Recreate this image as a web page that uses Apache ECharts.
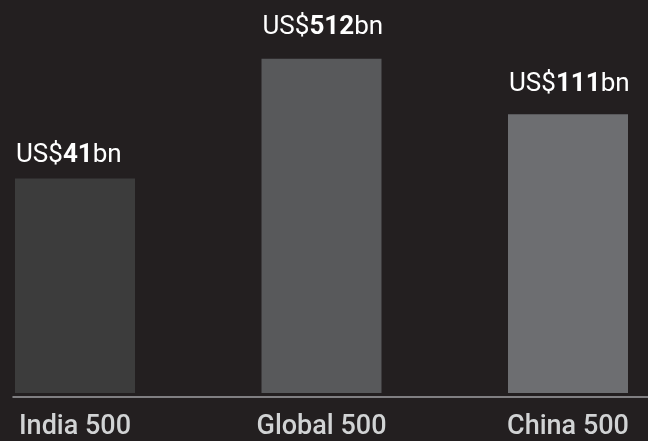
<!DOCTYPE html>
<html>
<head>
<meta charset="utf-8">
<script src="https://cdn.jsdelivr.net/npm/echarts@6/dist/echarts.min.js"></script>
<style>
html,body{margin:0;padding:0;background:#231f20;}
#chart{width:648px;height:441px;}
</style>
</head>
<body>
<div id="chart"></div>
<script>
// Categories and values (US$ bn)
const categories = ['India 500', 'Global 500', 'China 500'];
const values = [41, 512, 111];
// Bar heights as drawn in the (not-to-scale) illustration, in display units
const barHeights = [217, 338, 282];
const barColors = ['#3c3c3c', '#58595b', '#6d6e71'];
const labelGaps = [10, 18, 17];

const chart = echarts.init(document.getElementById('chart'), null, {renderer: 'canvas'});
const font = 'Roboto, "Liberation Sans", Arial, sans-serif';

const data = barHeights.map((h, i) => ({
  value: h,
  itemStyle: {color: barColors[i]},
  label: {
    show: true,
    position: [1, -labelGaps[i]],
    align: 'left',
    verticalAlign: 'bottom',
    formatter: () => '{a|US$}{b|' + values[i] + '}{a|bn}',
    rich: {
      a: {color: '#ffffff', fontSize: 26, fontFamily: font, fontWeight: 400},
      b: {color: '#ffffff', fontSize: 26, fontFamily: font, fontWeight: 700}
    }
  }
}));

chart.setOption({
  backgroundColor: '#231f20',
  animation: false,
  grid: [
    {left: 75, right: 80, top: 41, bottom: 44},
    {left: 13, right: 0, top: 41, bottom: 44}
  ],
  xAxis: [
    {
      type: 'category', gridIndex: 0, data: categories, boundaryGap: false,
      axisLine: {show: false}, axisTick: {show: false},
      axisLabel: {color: '#d1d3d4', fontSize: 27, fontFamily: font, fontWeight: 500, margin: 21}
    },
    {
      type: 'value', gridIndex: 1, min: 0, max: 1,
      axisLine: {show: true, onZero: false, lineStyle: {color: '#a0a0a2', width: 1.5}},
      axisTick: {show: false}, axisLabel: {show: false}, splitLine: {show: false}
    }
  ],
  yAxis: [
    {type: 'value', gridIndex: 0, min: 0, max: 356, show: false, splitLine: {show: false}},
    {type: 'value', gridIndex: 1, min: 0, max: 1, show: false, splitLine: {show: false}}
  ],
  series: [{
    type: 'bar', xAxisIndex: 0, yAxisIndex: 0,
    barWidth: 120, data: data, z: 1
  }]
});
</script>
</body>
</html>
